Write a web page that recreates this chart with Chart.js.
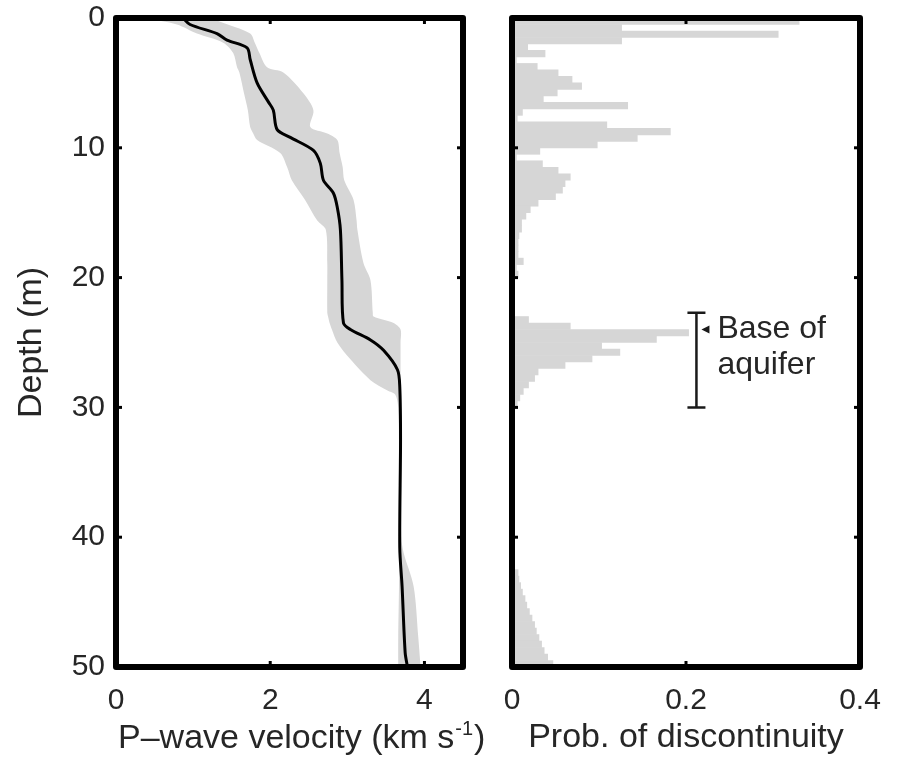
<!DOCTYPE html>
<html><head><meta charset="utf-8">
<script src="https://cdn.jsdelivr.net/npm/chart.js@4.4.1/dist/chart.umd.min.js"></script>
<style>
html,body{margin:0;padding:0;background:#fff;}
#wrap{position:relative;width:900px;height:760px;overflow:hidden;}
canvas{position:absolute;left:0;top:0;}
</style></head><body>
<div id="wrap"><canvas id="left" width="900" height="760"></canvas><canvas id="right" width="900" height="760"></canvas></div>
<script>
// ---------- data ----------
const meanDepth    = [0, 0.5, 1.2, 1.7, 2.3, 3.2, 5.0, 6.5, 7.1, 8.6, 9.2, 10.2, 11.2, 12.5, 13.5, 14.6, 16.3, 20.2, 23.5, 24.0, 24.8, 25.6, 27.1, 28.4, 32.5, 40.8, 43.8, 48.9, 50];
const meanVelocity = [0.87, 0.96, 1.31, 1.44, 1.70, 1.74, 1.83, 1.98, 2.04, 2.09, 2.26, 2.56, 2.65, 2.69, 2.82, 2.87, 2.91, 2.93, 2.95, 3.04, 3.30, 3.47, 3.65, 3.68, 3.69, 3.68, 3.71, 3.75, 3.78];

const bandDepth = [0, 0.5, 1.2, 1.9, 2.7, 3.8, 4.2, 5.8, 7.1, 8.4, 8.9, 9.4, 10.4, 11.5, 12.5, 14.0, 15.6, 16.3, 18.9, 20.2, 22.7, 23.0, 23.5, 24.0, 25.0, 26.3, 27.9, 28.7, 29.0, 30, 35, 40, 41.2, 43.8, 47.7, 50];
const bandLower = [0.38, 0.79, 1.05, 1.39, 1.52, 1.57, 1.60, 1.66, 1.71, 1.74, 1.78, 1.83, 2.13, 2.22, 2.28, 2.45, 2.61, 2.72, 2.74, 2.74, 2.74, 2.75, 2.77, 2.80, 2.87, 3.04, 3.30, 3.52, 3.62, 3.66, 3.67, 3.67, 3.67, 3.67, 3.66, 3.66];
const bandUpper = [1.22, 1.45, 1.74, 1.80, 1.86, 1.96, 2.17, 2.43, 2.56, 2.52, 2.74, 2.87, 2.90, 2.94, 2.96, 3.08, 3.12, 3.13, 3.21, 3.30, 3.33, 3.34, 3.60, 3.69, 3.69, 3.69, 3.69, 3.69, 3.69, 3.69, 3.69, 3.70, 3.73, 3.86, 3.92, 3.95];

const probBinWidth = 0.5; // m
const probValues = [
  0.33, 0.126, 0.306, 0.126, 0.018, 0.038, 0.005, 0.029, 0.053, 0.069,
  0.080, 0.052, 0.036, 0.133, 0.012, 0.006, 0.109, 0.182, 0.144, 0.098,
  0.032, 0.005, 0.035, 0.053, 0.067, 0.061, 0.058, 0.050, 0.030, 0.021,
  0.016, 0.011, 0.011, 0.008, 0.007, 0.007, 0.007, 0.013, 0.005, 0.007,
  0.003, 0.002, 0.002, 0.002, 0.002, 0.003, 0.019, 0.067, 0.203, 0.166,
  0.103, 0.124, 0.092, 0.061, 0.030, 0.026, 0.019, 0.013, 0.009, 0.006,
  0.003, 0.002, 0.002, 0.002, 0.002, 0.002, 0.002, 0.002, 0.002, 0.002,
  0.002, 0.002, 0.003, 0.003, 0.003, 0.003, 0.003, 0.003, 0.003, 0.003,
  0.003, 0.003, 0.003, 0.003, 0.003, 0.007, 0.008, 0.010, 0.012, 0.015,
  0.017, 0.020, 0.023, 0.026, 0.028, 0.031, 0.034, 0.037, 0.041, 0.047
];

const depthTicks = [0, 10, 20, 30, 40, 50];
const velocityTicks = [0, 2, 4];
const probTicks = [0, 0.2, 0.4];

const aquiferX = 0.212;
const aquiferTop = 22.7;
const aquiferBottom = 30.0;
const aquiferBase = 24.0;
const aquiferLabel = ['Base of', 'aquifer'];

const depthTitle = 'Depth (m)';
const velocityTitleParts = ['P\u2013wave velocity (km s', '-1', ')'];
const probTitle = 'Prob. of discontinuity';

// ---------- style ----------
const FONT = "'Liberation Sans', Arial, Helvetica, sans-serif";
const TXT = '#262626';
const GREY = '#d6d6d6';
Chart.defaults.font.family = FONT;
Chart.defaults.color = TXT;

const pts = (xs, ys) => xs.map((d, i) => ({x: ys[i], y: d}));
const binCenters = probValues.map((_, i) => (i + 0.5) * probBinWidth);

const framePlugin = {
  id: 'frame',
  afterDatasetsDraw(chart, args, opts) {
    const {ctx, chartArea: a} = chart;
    const xs = chart.scales.x, ys = chart.scales.y;
    ctx.save();
    ctx.strokeStyle = '#000';
    ctx.lineWidth = 3;
    for (const v of opts.xTicks) {
      const px = xs.getPixelForValue(v);
      if (px <= a.left + 4 || px >= a.right - 4) continue;
      ctx.beginPath(); ctx.moveTo(px, a.top); ctx.lineTo(px, a.top + 6); ctx.stroke();
      ctx.beginPath(); ctx.moveTo(px, a.bottom); ctx.lineTo(px, a.bottom - 6); ctx.stroke();
    }
    for (const v of opts.yTicks) {
      const py = ys.getPixelForValue(v);
      if (py <= a.top + 4 || py >= a.bottom - 4) continue;
      ctx.beginPath(); ctx.moveTo(a.left, py); ctx.lineTo(a.left + 6, py); ctx.stroke();
      ctx.beginPath(); ctx.moveTo(a.right, py); ctx.lineTo(a.right - 6, py); ctx.stroke();
    }
    ctx.lineWidth = 6;
    ctx.lineJoin = 'round';
    ctx.strokeRect(a.left, a.top, a.right - a.left, a.bottom - a.top);
    ctx.restore();
  }
};

// x-axis title with a real superscript, laid out from the axis' left end
const velTitlePlugin = {
  id: 'velTitle',
  afterDraw(chart) {
    const {ctx} = chart;
    const xs = chart.scales.x;
    const x0 = xs.getPixelForValue(0) + 2;
    const base = 748;
    ctx.save();
    ctx.fillStyle = TXT;
    ctx.textAlign = 'left';
    ctx.textBaseline = 'alphabetic';
    ctx.font = '34px ' + FONT;
    ctx.fillText(velocityTitleParts[0], x0, base);
    let x = x0 + ctx.measureText(velocityTitleParts[0]).width + 1;
    ctx.font = '20px ' + FONT;
    ctx.fillText(velocityTitleParts[1], x, base - 13);
    x += ctx.measureText(velocityTitleParts[1]).width + 1;
    ctx.font = '34px ' + FONT;
    ctx.fillText(velocityTitleParts[2], x, base);
    ctx.restore();
  }
};

const aquiferPlugin = {
  id: 'aquifer',
  afterDatasetsDraw(chart) {
    const {ctx} = chart;
    const xs = chart.scales.x, ys = chart.scales.y;
    const x = xs.getPixelForValue(aquiferX);
    const y1 = ys.getPixelForValue(aquiferTop);
    const y2 = ys.getPixelForValue(aquiferBottom);
    const yb = ys.getPixelForValue(aquiferBase);
    ctx.save();
    ctx.strokeStyle = '#1a1a1a';
    ctx.fillStyle = '#1a1a1a';
    ctx.lineWidth = 2.5;
    ctx.beginPath();
    ctx.moveTo(x, y1); ctx.lineTo(x, y2);
    ctx.moveTo(x - 9, y1); ctx.lineTo(x + 9, y1);
    ctx.moveTo(x - 9, y2); ctx.lineTo(x + 9, y2);
    ctx.stroke();
    ctx.beginPath();
    ctx.moveTo(x + 5, yb); ctx.lineTo(x + 13, yb - 4); ctx.lineTo(x + 13, yb + 4); ctx.closePath();
    ctx.fill();
    ctx.fillStyle = TXT;
    ctx.font = '32px ' + FONT;
    ctx.textBaseline = 'alphabetic';
    ctx.textAlign = 'left';
    ctx.fillText(aquiferLabel[0], x + 21, yb + 8);
    ctx.fillText(aquiferLabel[1], x + 21, yb + 44);
    ctx.restore();
  }
};

function fixTicks(values) {
  return scale => { scale.ticks = values.map(v => ({value: v})); };
}
function fitX(h) {
  return s => { s.height = h; s.paddingLeft = 0; s.paddingRight = 0; };
}
function fitY(w) {
  return s => { s.width = w; s.paddingTop = 0; s.paddingBottom = 0; };
}

const tickFont = {size: 30};
const titleFont = {size: 34};

// ---------- left chart ----------
new Chart(document.getElementById('left'), {
  type: 'line',
  data: {
    datasets: [
      {data: pts(meanDepth, meanVelocity), borderWidth: 3, borderColor: '#000', fill: false, pointRadius: 0, tension: 0.3},
      {data: pts(bandDepth, bandUpper), borderWidth: 0, borderColor: GREY, backgroundColor: GREY, fill: '+1', pointRadius: 0, tension: 0.3},
      {data: pts(bandDepth, bandLower), borderWidth: 0, borderColor: GREY, backgroundColor: GREY, fill: false, pointRadius: 0, tension: 0.3}
    ]
  },
  options: {
    responsive: false, animation: false, indexAxis: 'y',
    layout: {padding: {left: 0, right: 437, top: 18, bottom: 0}},
    plugins: {legend: {display: false}, tooltip: {enabled: false}, frame: {xTicks: velocityTicks, yTicks: depthTicks}},
    scales: {
      x: {type: 'linear', position: 'bottom', min: 0, max: 4.5,
          grid: {display: false, drawTicks: false}, border: {display: false},
          ticks: {font: tickFont, padding: 16, maxRotation: 0},
          afterBuildTicks: fixTicks(velocityTicks),
          afterFit: fitX(93),
          title: {display: false}},
      y: {type: 'linear', position: 'left', min: 0, max: 50, reverse: true,
          grid: {display: false, drawTicks: false}, border: {display: false},
          ticks: {font: tickFont, padding: 11},
          afterBuildTicks: fixTicks(depthTicks),
          afterFit: fitY(116),
          title: {display: true, text: depthTitle, font: titleFont, padding: {top: 11, bottom: 0}}}
    }
  },
  plugins: [framePlugin, velTitlePlugin]
});

// ---------- right chart ----------
new Chart(document.getElementById('right'), {
  type: 'bar',
  data: {
    datasets: [
      {data: pts(binCenters, probValues), backgroundColor: GREY, borderWidth: 0, barPercentage: 1, categoryPercentage: 1}
    ]
  },
  options: {
    responsive: false, animation: false, indexAxis: 'y',
    layout: {padding: {left: 0, right: 40, top: 18, bottom: 0}},
    plugins: {legend: {display: false}, tooltip: {enabled: false}, frame: {xTicks: probTicks, yTicks: depthTicks}},
    scales: {
      x: {type: 'linear', position: 'bottom', min: 0, max: 0.4,
          grid: {display: false, drawTicks: false}, border: {display: false},
          ticks: {font: tickFont, padding: 16, maxRotation: 0},
          afterBuildTicks: fixTicks(probTicks),
          afterFit: fitX(93),
          title: {display: true, text: probTitle, font: titleFont, padding: {top: 0, bottom: 2}}},
      y: {type: 'linear', position: 'left', min: 0, max: 50, reverse: true, offset: false,
          grid: {display: false, drawTicks: false, offset: false}, border: {display: false},
          ticks: {display: false},
          afterBuildTicks: fixTicks(depthTicks),
          afterFit: fitY(512)}
    }
  },
  plugins: [framePlugin, aquiferPlugin]
});
</script>
</body></html>
